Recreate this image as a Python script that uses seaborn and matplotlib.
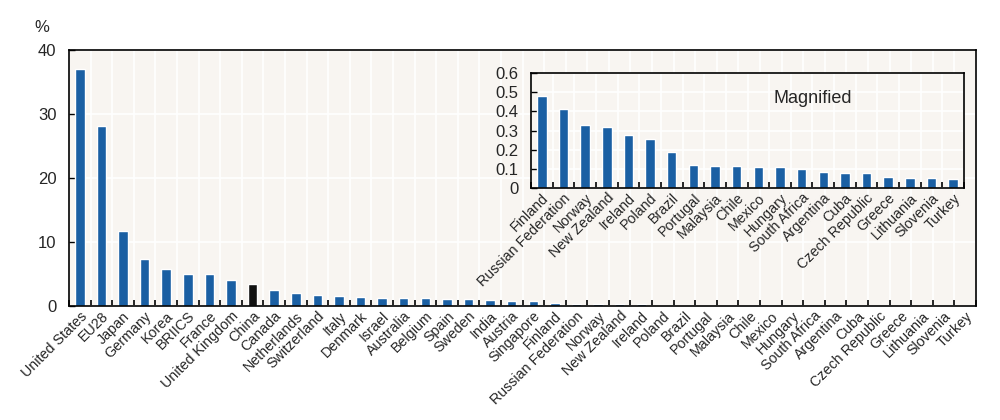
import matplotlib
matplotlib.use("Agg")
import matplotlib.pyplot as plt
import seaborn as sns
import pandas as pd
import numpy as np

# Share of world total, %
countries = ["United States", "EU28", "Japan", "Germany", "Korea", "BRIICS", "France",
             "United Kingdom", "China", "Canada", "Netherlands", "Switzerland", "Italy",
             "Denmark", "Israel", "Australia", "Belgium", "Spain", "Sweden", "India",
             "Austria", "Singapore", "Finland", "Russian Federation", "Norway",
             "New Zealand", "Ireland", "Poland", "Brazil", "Portugal", "Malaysia", "Chile",
             "Mexico", "Hungary", "South Africa", "Argentina", "Cuba", "Czech Republic",
             "Greece", "Lithuania", "Slovenia", "Turkey"]
values = [37.1, 28.1, 11.8, 7.4, 5.8, 5.1, 4.95, 4.1, 3.45, 2.45, 1.98, 1.67, 1.6,
          1.5, 1.35, 1.25, 1.2, 1.15, 1.1, 0.94, 0.8, 0.75, 0.482, 0.414, 0.330,
          0.320, 0.278, 0.254, 0.190, 0.120, 0.115, 0.113, 0.111, 0.110, 0.101, 0.085,
          0.080, 0.080, 0.059, 0.054, 0.054, 0.050]
magnified_from = "Finland"
highlight = "China"

main_ticks = [0, 10, 20, 30, 40]
inset_ticks = [0, 0.1, 0.2, 0.3, 0.4, 0.5, 0.6]

blue = "#1a5fa3"
bg = "#f8f5f1"

sns.set_theme(style="white")
plt.rcParams["font.family"] = ["Liberation Sans Narrow", "Liberation Sans", "DejaVu Sans"]

df = pd.DataFrame({"country": countries, "value": values})
palette = {c: ("#111111" if c == highlight else blue) for c in countries}
small = df.iloc[countries.index(magnified_from):].reset_index(drop=True)


def style_axes(ax, n, ticks):
    ax.set_facecolor(bg)
    ax.set_xlim(-0.5, n - 0.5)
    ax.set_xticks(np.arange(n))
    ax.set_xticks(np.arange(n + 1) - 0.5, minor=True)
    ax.tick_params(axis="x", which="major", length=0, pad=2)
    ax.tick_params(axis="x", which="minor", direction="in", length=4, width=1.2,
                   color="black", bottom=True)
    ax.set_yticks(ticks)
    ax.tick_params(axis="y", direction="in", length=4, width=1, color="black",
                   left=True, labelsize=12, pad=9)
    ax.grid(True, which="minor", axis="x", color="white", lw=1.2)
    ax.grid(True, which="major", axis="y", color="white", lw=1.2)
    ax.set_axisbelow(True)
    for s in ax.spines.values():
        s.set_color("black")
        s.set_linewidth(1.2)
    for lab in ax.get_xticklabels():
        lab.set_rotation(45)
        lab.set_ha("right")
        lab.set_rotation_mode("anchor")
        lab.set_fontsize(10.3)
    ax.set_xlabel("")
    ax.set_ylabel("")


fig = plt.figure(figsize=(10, 4.2), dpi=100)
ax = fig.add_axes([0.069, 0.271, 0.907, 0.61])
sns.barplot(data=df, x="country", y="value", hue="country", palette=palette,
            width=0.44, legend=False, ax=ax, saturation=1)
ax.set_ylim(0, 40)
style_axes(ax, len(df), main_ticks)
fig.text(0.034, 0.925, "%", fontsize=12)

ins = fig.add_axes([0.531, 0.552, 0.433, 0.274])
sns.barplot(data=small, x="country", y="value", hue="country", palette=palette,
            width=0.44, legend=False, ax=ins, saturation=1)
ins.set_ylim(0, 0.6)
style_axes(ins, len(small), inset_ticks)
ins.set_yticklabels(["0"] + [f"{t:.1f}" for t in inset_ticks[1:]])
ins.text(0.56, 0.74, "Magnified", transform=ins.transAxes, fontsize=13)

fig.savefig("out.png", dpi=100)
